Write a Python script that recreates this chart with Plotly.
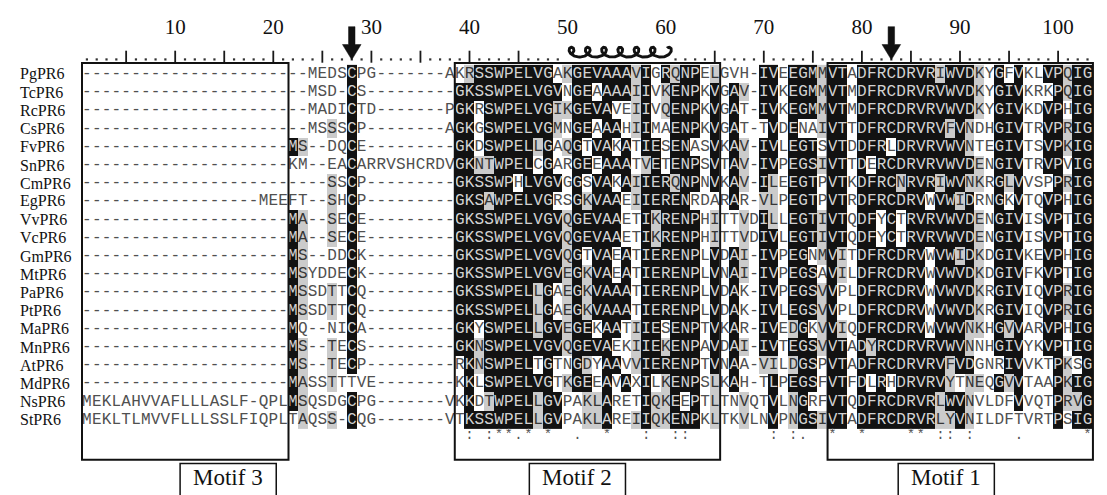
import math
import plotly.graph_objects as go

# ---------------- data ----------------
NAMES = ["PgPR6", "TcPR6", "RcPR6", "CsPR6", "FvPR6", "SnPR6", "CmPR6", "EgPR6", "VvPR6", "VcPR6",
         "GmPR6", "MtPR6", "PaPR6", "PtPR6", "MaPR6", "MnPR6", "AtPR6", "MdPR6", "NsPR6", "StPR6"]
LENGTHS = [72, 69, 72, 71, 70, 79, 68, 73, 71, 71, 70, 72, 72, 72, 70, 70, 70, 73, 95, 95]

D21 = "-" * 21
SEQS = [
    D21 + "--MEDSCPG-------A" + "KRSSWPELVGAKGEVAAAVIGRQNPELGVH" + "-" + "IVEEGMMVTADFRCDRVRIWVDKYGFVKLVPQIG",
    D21 + "--MSD-CS---------" + "GKSSWPELVGVNGEAAAAIIVKENPKVGAV" + "-" + "IVKEGMMVTMDFRCDRVRVWVDKYGIVKRKPQIG",
    D21 + "--MADICTD-------P" + "GKRSWPELVGIKGEVAVEIIVQENPKVGAT" + "-" + "IVKEGMMVTMDFRCDRVRVWVDKYGIVKDVPHIG",
    D21 + "--MSSSCP--------A" + "GKGSWPELVGMNGEAAAHIIMAENPKVGAT" + "-" + "TVDENAIVTTDFRCDRVRVFVNDHGIVTRVPRIG",
    D21 + "MS--DQCE---------" + "GKDSWPELLGAQGTVAKATIESENASVKAV" + "-" + "IVLEGTSVTDDFRLDRVRVWVNTEGIVTSVPKIG",
    D21 + "KM--EACARRVSHCRDV" + "GKNTWPELCGARGEEAAATVETENPSVTAV" + "-" + "IVPEGSIVTTDERCDRVRVWVDENGIVTRVPVIG",
    D21 + "----SSCP---------" + "GKSSWPHLVGVGGSVAKAIIERQNPNVKAV" + "-" + "ILEEGTPVTKDFRCNRVRIWVNKRGLVVSPPRIG",
    "-" * 18 + "MEE" + "FT--SHCP---------" + "GKSAWPELVGRSGKVAAEIIERENRDARAR" + "-" + "VLPEGTPVTRDFRCDRVWVWIDRNGKVTQVPHIG",
    D21 + "MA--SECE---------" + "GKSSWPELVGVQGEVAAETIKRENPHITTV" + "D" + "ILLEGTIVTQDFYCTRVRVWVDENGIVISVPTIG",
    D21 + "MA--SECE---------" + "GKSSWPELVGVQGEVAAETIKRENPHITTV" + "D" + "IVLEGTIVTQDFYCTRVRVWVDENGIVISVPTIG",
    D21 + "MS--DDCK---------" + "GKSSWPELVGVQGTVAEATIERENPLVDAI" + "-" + "IVPEGNMVITDFRCDRVWVWIDKDGIVKEVPHIG",
    D21 + "MSYDDECK---------" + "GKSSWPELVGVEGKVAEATIERENPLVNAI" + "-" + "IVPEGSAVILDFRCDRVWVWVDKDGIVFKVPTIG",
    D21 + "MSSDTTCQ---------" + "GKSSWPELLGAEGKVAAATIERENPLVDAK" + "-" + "IVPEGSVVPLDFRCDRVWVWVDKRGIVIQVPRIG",
    D21 + "MSSDTTCQ---------" + "GKSSWPELLGAEGKVAAATIERENPLVDAK" + "-" + "IVLEGSVVPLDFRCDRVWVWVDKRGIVIQVPRIG",
    D21 + "MQ--NICA---------" + "GKYSWPELLGVEGEKAATIIESENPTVKAR" + "-" + "IVEDGKVVIQDFRCDRVWVWVNKHGVVARVPHIG",
    D21 + "MS--TECS---------" + "GKNSWPELVGVQGEVAEKIIEKENPAVDAI" + "-" + "IVTEGSVVTADYRCDRVRVWVNNHGIVYKVPTIG",
    D21 + "MS--TECP---------" + "RKNSWPELTGTNGDYAAVVIERENPTVNAA" + "-" + "VILDGSPVTADFRCDRVRVFVDGNRIVVKTPKSG",
    D21 + "MASSTTTVE--------" + "KKLSWPELVGTKGEEAVAXILKENPSLKAH" + "-" + "TLPEGSFVTFDLRHDRVRVYTNEQGVVTAAPKIG",
    "MEKLAHVVAFLLLASLF-QPL" + "MSQSDGCPG-------V" + "KKDTWPELLGVPAKLARETIQKEEPTLTNV" + "Q" + "TVLNGRFVTQDFRCDRVRLWVNVLDFVVQTPRVG",
    "MEKLTLMVVFLLLSSLFIQPL" + "TAQSS-CQG-------V" + "TKSSWPELLGVPAKLAREIIQKENPKLTKV" + "L" + "NVPNGSIVTADFRCDRVRLYVNILDFTVRTPSIG",
]

# shading per column, one character per sequence (k = black, g = grey, . = none)
COL_SHADE = {
    22: "....k...kkkkkkkkkkk.",
    23: "....g...gggggg.ggggg",
    26: "...g..gggg..gg.ggg.g",
    28: "kkkkkkkkkkkkkkkkk.kk",
    39: ".kkkkkkkkkkkkkkk....",
    40: "gkkkkkkkkkkkkkkkkkkk",
    41: "kk...gkkkkkkkk.gg..k",
    42: "kkkkkgkgkkkkkkkkkkgk",
    43: "kkkkkkkkkkkkkkkkkkkk",
    44: "kkkkkkkkkkkkkkkkkkkk",
    45: "kkkkkk.kkkkkkkkkkkkk",
    46: "kkkkkkkkkkkkkkkkkkkk",
    47: "kkkkg.kkkkkkgggk.kgg",
    48: "kkkkkkkkkkkkkkkkkkkk",
    49: ".kgg..k.kkkk..kk..kk",
    50: "g.g.g...gggggggg.g..",
    51: "kkkkkkkkkkkkkkkkkk..",
    52: "kkkk.k.gkk.gggkkgkgg",
    53: "k.k.k.kkkkkkkk.k..gg",
    54: "kkkkkkkkkkkkkkkkkkkk",
    55: "kk.k.k.kkk..kkk.k...",
    56: "kk..kkk...kkkk...k..",
    57: "gggg..gg......ggg..g",
    58: "kkkkkgkkkkkkkkkkkkkk",
    59: "....kkkkggkkkkkkk.gg",
    60: "kgg...kkkkkkkk.gkggg",
    61: "gkkkkkgkkkkkkkkkkkkk",
    62: "kkkkkkkkkkkkkkkkkk.k",
    63: "kkkk.kk.kkkkkkkkkkkk",
    65: "gkkkkkk.ggkkkkkkkggg",
    67: ".kkkkkkk..kkkkkkkk..",
    68: ".g..ggg.gggg...g..gg",
    70: "kkk.kkkgkkkkkkkkg...",
    71: "kkkkkkgggkkkkkkkgkkk",
    73: "kkkkkkkkkkkkkkgkgkgg",
    74: "kkk.kkkkkkkkkkkkkkkk",
    75: "kkk.kkkkkk.kkk.kkk.k",
    76: "gggg.g..ggg.gggg...g",
    77: "kkkkkkkkkkkkkkkkkkkk",
    78: "kkkkkkkkkkgg..gkkkkk",
    80: "kkkkkkkkkkkkkkkkkkkk",
    81: "kkkkk.kkkkkkkkkgk.kk",
    82: "kkkkkkkk..kkkkkkkkkk",
    83: "kkkk.kkkkkkkkkkkk.kk",
    84: "kkkkkkgk..kkkkkkkkkk",
    85: "kkkkkkkkkkkkkkkkkkkk",
    86: "kkkkkkkkkkkkkkkkkkkk",
    87: "kkkkkkk.kk.....kkkkk",
    88: "gkkkkkgkkkkkkkkkkkgg",
    89: "kkkgkkkkkkkkkkkkggkg",
    90: "kkkkkkkgkkgkkkkkk.kk",
    91: "kkkggkgkkkkkkkggkggg",
    92: "ggg..gg.ggggggg..g..",
    94: "kkkkkkkkkkkkkkkk.k..",
    95: ".kkkkkg.kkkkkkgkkg..",
    96: "kkkkkkkkkkkkkkkkkkk.",
    99: "k.kkkk.kkkkkkkkk....",
    100: "kkkkkkkkkkkkkkkkkkkk",
    101: "gg.gg.g.....gg..ggg.",
    102: "kkkkkkkkkkkkkkkk.kgk",
    103: "kkkkkkkkkkkkkkkkkkkk",
}

CONSENSUS = {40: ":", 42: ":", 43: "*", 44: "*", 45: ".", 46: "*", 48: "*", 51: ".", 54: "*",
             58: ":", 61: ":", 62: ":", 71: ":", 73: ":", 74: ".", 77: "*", 80: "*", 85: "*",
             86: "*", 88: ":", 89: ":", 91: ":", 96: ".", 103: "*"}

RULER_LABELS = [10, 20, 30, 40, 50, 60, 70, 80, 90, 100]
ARROW_COLS = [28, 83]
HELIX_COLS = (50, 60)
MOTIF_BOXES = [(1, 21), (39, 65), (77, 103)]
MOTIF_LABELS = ["Motif 3", "Motif 2", "Motif 1"]
MOTIF_LABEL_COLS = [15.4, 51.0, 88.6]

# ---------------- geometry (axis units: column / row) ----------------
NCOL = len(SEQS[0])
NROW = len(SEQS)
X_RANGE = [-7.043, 105.80]
Y_RANGE = [23.571, -3.626]
Y_NUM = -2.47
Y_DOT = -0.80
Y_TICK = (-1.28, -0.62)
Y_HELIX = -1.2
Y_BOX_TOP = -0.6
Y_BOX_BOT = 21.2
Y_CONS = 19.85
Y_LABEL_TOP = 21.4
Y_LABEL_TXT = 22.15
LABEL_HALF_W = 4.9
X_NAME = -6.0
X_LEN = 104.2

MONO = "Liberation Mono"
SERIF = "Liberation Serif"
BLACK = "#121212"
GREY = "#cbcbcb"

# ---------------- cells ----------------
z = [[0] * NCOL for _ in range(NROW)]
for col, s in COL_SHADE.items():
    for r, ch in enumerate(s):
        z[r][col - 1] = 2 if ch == "k" else (1 if ch == "g" else 0)

cols = list(range(1, NCOL + 1))
rows = list(range(NROW))

fig = go.Figure()
fig.add_trace(go.Heatmap(
    z=z, x=cols, y=rows, zmin=0, zmax=2, showscale=False, hoverinfo="skip",
    colorscale=[[0, "#ffffff"], [0.33, "#ffffff"], [0.34, GREY], [0.66, GREY],
                [0.67, BLACK], [1, BLACK]],
))

groups = {0: ([], [], [], "#505050"), 1: ([], [], [], "#363636"), 2: ([], [], [], "#d2d2d2")}
for r in rows:
    for c in cols:
        ch = SEQS[r][c - 1]
        gx, gy, gt, _ = groups[z[r][c - 1]]
        gx.append(c)
        gy.append(r)
        gt.append(ch)
for k, (gx, gy, gt, color) in groups.items():
    fig.add_trace(go.Scatter(x=gx, y=gy, text=gt, mode="text", textposition="middle center",
                             textfont=dict(family=MONO, size=16, color=color),
                             hoverinfo="skip", showlegend=False))

# consensus line
cx = sorted(CONSENSUS)
fig.add_trace(go.Scatter(x=cx, y=[Y_CONS] * len(cx), text=[CONSENSUS[c] for c in cx],
                         mode="text", textposition="middle center",
                         textfont=dict(family=MONO, size=14, color="#555555"),
                         hoverinfo="skip", showlegend=False))

# ruler: dots and ticks
dot_x, tick_x, tick_y = [], [], []
for c in cols:
    if HELIX_COLS[0] <= c <= HELIX_COLS[1]:
        continue
    if c % 5 == 0:
        tick_x += [c, c, None]
        tick_y += [Y_TICK[0], Y_TICK[1], None]
    else:
        dot_x.append(c)
fig.add_trace(go.Scatter(x=dot_x, y=[Y_DOT] * len(dot_x), mode="markers",
                         marker=dict(symbol="square", size=2.2, color="#333333"),
                         hoverinfo="skip", showlegend=False))
fig.add_trace(go.Scatter(x=tick_x, y=tick_y, mode="lines",
                         line=dict(color="#1a1a1a", width=1.8),
                         hoverinfo="skip", showlegend=False))
fig.add_trace(go.Scatter(x=RULER_LABELS, y=[Y_NUM] * len(RULER_LABELS),
                         text=[str(v) for v in RULER_LABELS], mode="text",
                         textposition="middle center",
                         textfont=dict(family=SERIF, size=21, color="#111111"),
                         hoverinfo="skip", showlegend=False))

# helix symbol (coil over the ruler)
hx, hy = [], []
n_turns = 6.4
span = HELIX_COLS[1] - HELIX_COLS[0] + 0.6
pitch = span / n_turns
steps = 500
for i in range(steps + 1):
    t = -0.6 * math.pi + n_turns * 2 * math.pi * i / steps
    u = (t + 0.6 * math.pi) / (2 * math.pi)
    hx.append(HELIX_COLS[0] - 0.1 + pitch * u - 0.6 * math.sin(t))
    hy.append(Y_HELIX - 0.27 * math.cos(t))
fig.add_trace(go.Scatter(x=hx, y=hy, mode="lines", line=dict(color="#111111", width=2.9),
                         hoverinfo="skip", showlegend=False))

# arrows
for c in ARROW_COLS:
    ax = [c - 0.33, c + 0.33, c + 0.33, c + 0.95, c, c - 0.95, c - 0.33, c - 0.33]
    ay = [-2.6, -2.6, -1.62, -1.62, -0.78, -1.62, -1.62, -2.6]
    fig.add_trace(go.Scatter(x=ax, y=ay, mode="lines", fill="toself", fillcolor="#111111",
                             line=dict(color="#111111", width=0.5),
                             hoverinfo="skip", showlegend=False))

shapes = []
for a, b in MOTIF_BOXES:
    shapes.append(dict(type="rect", xref="x", yref="y", x0=a - 0.5, x1=b + 0.55,
                       y0=Y_BOX_TOP, y1=Y_BOX_BOT, line=dict(color="#111111", width=2)))
for lc in MOTIF_LABEL_COLS:
    shapes.append(dict(type="rect", xref="x", yref="y", x0=lc - LABEL_HALF_W, x1=lc + LABEL_HALF_W,
                       y0=Y_LABEL_TOP, y1=24.5, line=dict(color="#111111", width=1.5)))

annotations = []
for r, name in enumerate(NAMES):
    annotations.append(dict(x=X_NAME, y=r, xref="x", yref="y", text=name, showarrow=False,
                            xanchor="left", yanchor="middle",
                            font=dict(family=SERIF, size=16, color="#111111")))
    annotations.append(dict(x=X_LEN, y=r, xref="x", yref="y", text=str(LENGTHS[r]), showarrow=False,
                            xanchor="left", yanchor="middle",
                            font=dict(family=SERIF, size=14, color="#111111")))
for lab, lc in zip(MOTIF_LABELS, MOTIF_LABEL_COLS):
    annotations.append(dict(x=lc, y=Y_LABEL_TXT, xref="x", yref="y", text=lab, showarrow=False,
                            xanchor="center", yanchor="middle",
                            font=dict(family=SERIF, size=23, color="#111111")))

fig.update_layout(
    width=1107, height=495, margin=dict(l=0, r=0, t=0, b=0),
    paper_bgcolor="white", plot_bgcolor="white", showlegend=False,
    shapes=shapes, annotations=annotations,
    xaxis=dict(range=X_RANGE, visible=False, fixedrange=True),
    yaxis=dict(range=Y_RANGE, visible=False, fixedrange=True),
)
fig.write_html("out.html")
